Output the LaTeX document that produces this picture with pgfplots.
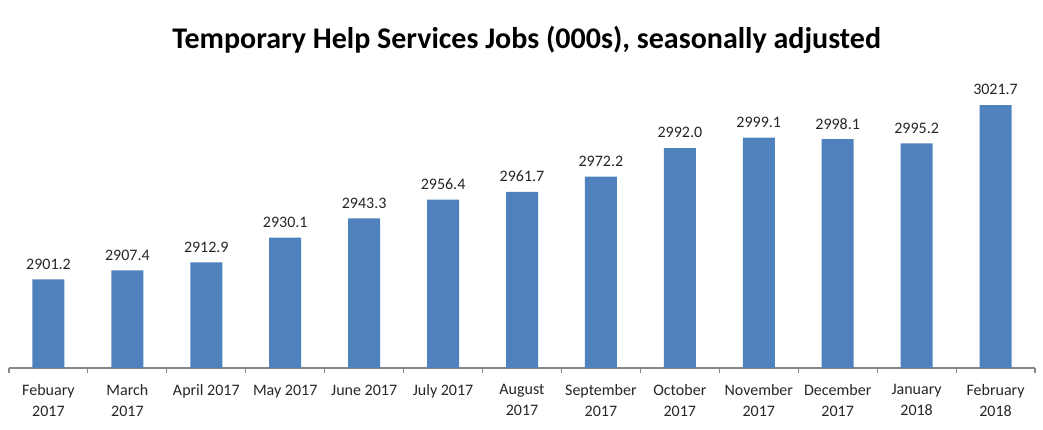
\documentclass[border=0pt]{standalone}
\usepackage{pgfplots}
\pgfplotsset{compat=1.18}
\usepackage{fontspec}
\setmainfont{Carlito}
\definecolor{barblue}{HTML}{4F81BD}
\definecolor{axisgray}{HTML}{868686}
\begin{document}
\begin{tikzpicture}
\useasboundingbox (0,0) rectangle (782.25pt,321.75pt);
\begin{axis}[
  at={(6.75pt,45.75pt)}, anchor=south west,
  width=769.5pt, height=217.1pt, scale only axis,
  xmin=-0.5, xmax=12.5, ymin=2840, ymax=3040,
  hide y axis, axis x line*=bottom,
  x axis line style={axisgray, line width=0.8pt, -},
  xtick={0,...,12},
  minor xtick={-0.5,0.5,...,12.5},
  major tick length=0pt, minor tick length=4pt,
  tick align=outside,
  minor tick style={axisgray, line width=0.8pt},
  xticklabels={{Febuary\\2017},{March\\2017},{April 2017},{May 2017},{June 2017},{July 2017},{August\\2017},{September\\2017},{October\\2017},{November\\2017},{December\\2017},{January\\2018},{February\\2018}},
  xticklabel style={align=center, font=\fontsize{12}{15.75}\selectfont, yshift=-9pt, text=black!85},
  ybar, bar width=24pt,
  nodes near coords,
  every node near coord/.append style={font=\fontsize{12}{14}\selectfont, text=black!85, yshift=4pt},
  /pgf/number format/.cd, fixed, precision=1, zerofill, 1000 sep={}, assume math mode=true,
]
\addplot[fill=barblue, draw=none] coordinates {
(0,2901.2) (1,2907.4) (2,2912.9) (3,2930.1) (4,2943.3) (5,2956.4) (6,2961.7)
(7,2972.2) (8,2992.0) (9,2999.1) (10,2998.1) (11,2995.2) (12,3021.7)
};
\end{axis}
\node[font=\fontsize{22.5}{27}\selectfont\bfseries] at (395pt,291.75pt) {Temporary Help Services Jobs (000s), seasonally adjusted};
\end{tikzpicture}
\end{document}
